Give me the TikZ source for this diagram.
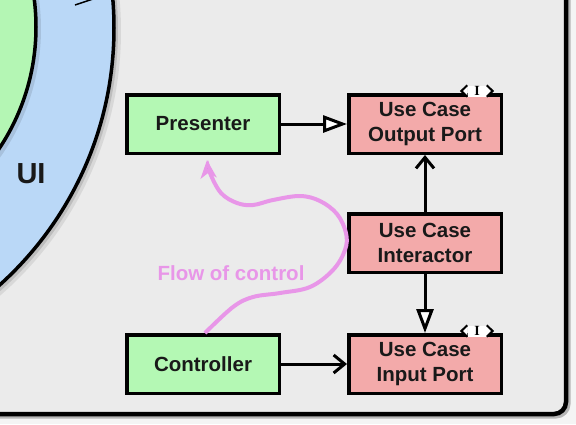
\documentclass[tikz,border=0pt]{standalone}
\usepackage{fontspec}
\setmainfont{Liberation Sans}
\newfontfamily\badgefont{Liberation Serif}
\usetikzlibrary{positioning, arrows.meta, calc}
\definecolor{panelgray}{RGB}{235, 235, 235}
\definecolor{outergray}{RGB}{244, 244, 244}
\definecolor{ringblue}{RGB}{186, 216, 247}
\definecolor{ringgreen}{RGB}{180, 246, 180}
\definecolor{boxgreen}{RGB}{180, 248, 180}
\definecolor{boxpink}{RGB}{243, 170, 170}
\definecolor{flowviolet}{RGB}{232, 150, 232}
\definecolor{flowtip}{RGB}{222, 112, 222}
\tikzset{
    % Node Styles
    block/.style={
        rectangle, draw=black, line width=3.5pt,
        minimum width=152.5pt, minimum height=58.5pt, align=center,
        font=\bfseries\fontsize{20.5}{25}\selectfont, text=black!90
    },
    adapter/.style={block, fill=boxgreen},
    usecase/.style={block, fill=boxpink},
    badge/.style={rectangle, fill=white, minimum width=19pt, minimum height=11pt,
        inner sep=0pt, font=\badgefont\bfseries\fontsize{14}{14}\selectfont},
    % Arrow Styles
    realize_arrow/.style={-{Triangle[length=24pt, width=17pt, fill=white]}, line width=3pt},
    uses_arrow/.style={-{Straight Barb[length=11pt, width=18pt]}, line width=3pt},
    flow_arrow/.style={-{Stealth[length=18pt, width=16pt, inset=5pt, fill=flowtip]},
        line width=4pt, draw=flowviolet},
    badge_edge/.style={line width=2pt, line join=miter}
}

\begin{document}
\begin{tikzpicture}[x=1pt, y=-1pt]

    % --- 0. Canvas and Panel ---
    \fill [outergray] (0,0) rectangle (576,424);
    \useasboundingbox (0,0) rectangle (576,424);
    \draw [black, opacity=0.25, line width=5pt, rounded corners=12pt] (-20,-20) rectangle (568,416);
    \draw [fill=panelgray, line width=4.5pt, rounded corners=12pt] (-20,-20) rectangle (566,414);

    % --- 1. Rings ---
    \fill [black, opacity=0.08] (-229,31) circle[radius=350];
    \fill [black, opacity=0.12] (-230,30) circle[radius=348];
    \draw [fill=ringblue, line width=3.5pt] (-232,28) circle[radius=346];
    \fill [black, opacity=0.10] (-181,29) circle[radius=222];
    \draw [fill=ringgreen, line width=3.5pt] (-183,27) circle[radius=219];
    \draw [line width=1.5pt] (75,5) -- (93,-1);
    \node [font=\bfseries\fontsize{29}{30}\selectfont, text=black!90] (ui) at (31,174) {UI};

    % --- 2. Boxes ---
    \node [adapter] (presenter) at (203,124) {Presenter};
    \node [usecase, right=66pt of presenter] (outport) {Use Case\\Output Port};
    \node [usecase, below=57pt of outport] (interactor) {Use Case\\Interactor};
    \node [usecase, below=59pt of interactor] (inport) {Use Case\\Input Port};
    \node [adapter, left=66pt of inport] (controller) {Controller};

    % --- 3. Flow of Control ---
    \draw [flow_arrow] plot [smooth, tension=0.6] coordinates {
        ([xshift=2pt]controller.north) (233,307) (253,297) (280,293) (310,287)
        (333,270) (345,250) (346,233) (337,214) (320,201) (300,196)
        (273,200) (253,205) (237,203) (221,193) (210,173) ([xshift=4pt, yshift=-5pt]presenter.south)
    };
    \node [font=\bfseries\fontsize{20.5}{25}\selectfont, text=flowviolet] (flow) at (231,273) {Flow of control};

    % --- 4. Arrows ---
    \draw [realize_arrow] (presenter) -- (outport);
    \draw [uses_arrow] (interactor) -- (outport);
    \draw [realize_arrow] (interactor) -- (inport);
    \draw [uses_arrow] (controller) -- (inport);

    % --- 5. Interface Badges ---
    \node [badge, xshift=-26pt, yshift=2pt] (outbadge) at (outport.north east) {I};
    \node [badge, xshift=-26pt, yshift=2pt] (inbadge) at (inport.north east) {I};
    \foreach \b in {outbadge, inbadge} {
        \fill [white] (\b.north west) -- ([xshift=-6pt]\b.west) -- (\b.south west) -- cycle;
        \fill [white] (\b.north east) -- ([xshift=6pt]\b.east) -- (\b.south east) -- cycle;
        \draw [badge_edge] (\b.north west) -- ([xshift=-6pt]\b.west) -- (\b.south west);
        \draw [badge_edge] (\b.north east) -- ([xshift=6pt]\b.east) -- (\b.south east);
    }

\end{tikzpicture}
\end{document}
